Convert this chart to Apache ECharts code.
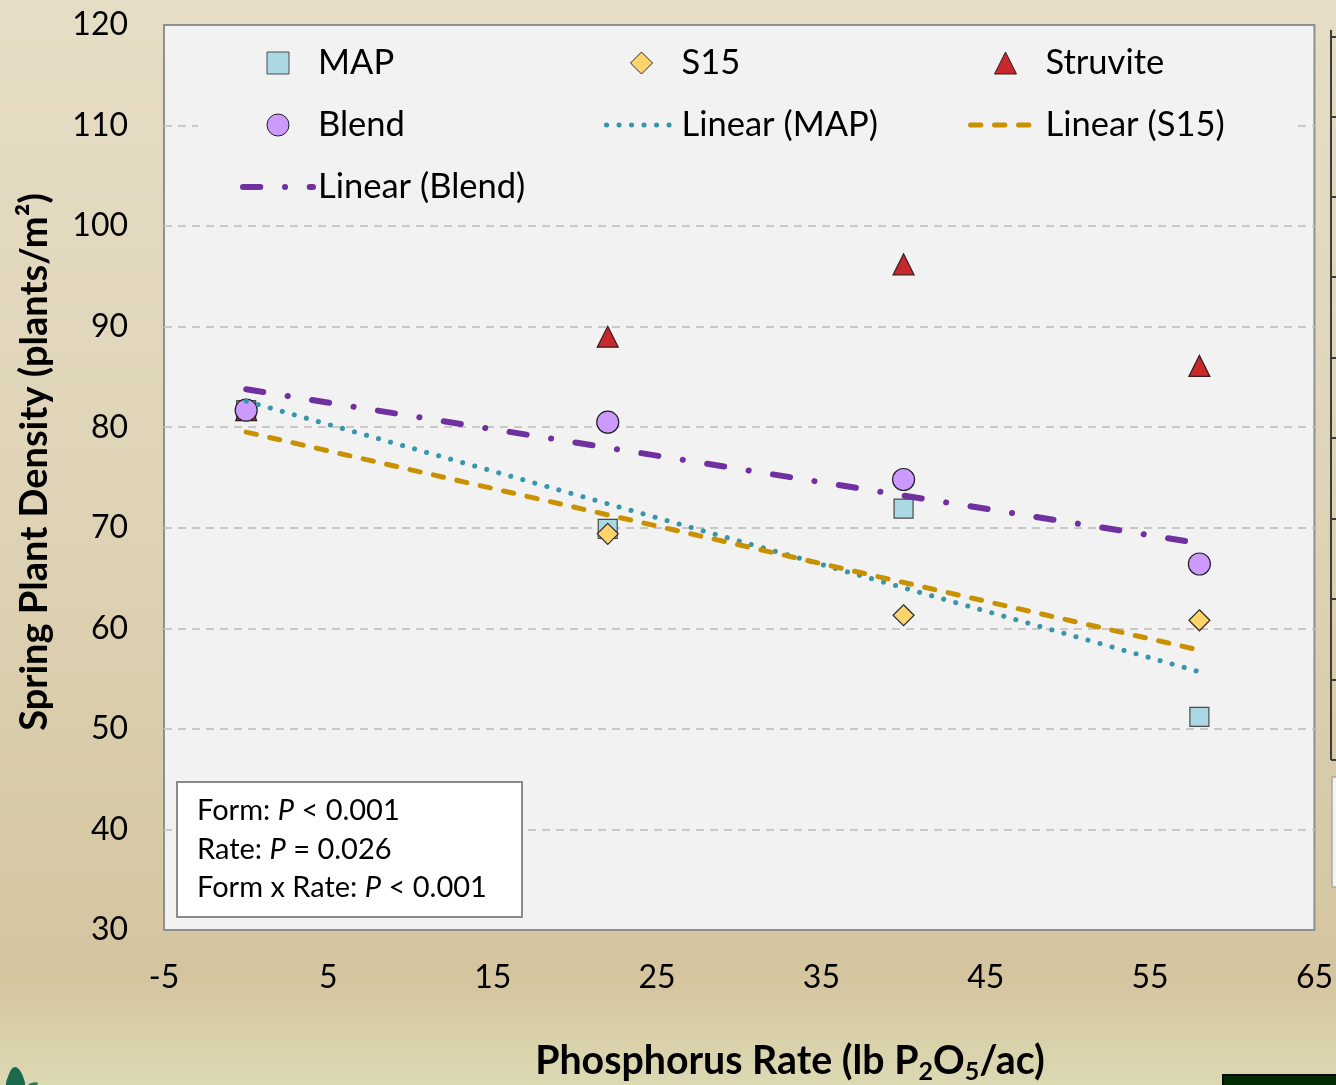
<!DOCTYPE html>
<html>
<head>
<meta charset="utf-8">
<script src="https://cdn.jsdelivr.net/npm/echarts@6/dist/echarts.min.js"></script>
<style>
  html, body { margin: 0; padding: 0; }
  #chart { width: 1336px; height: 1085px; }
</style>
</head>
<body>
<div id="chart"></div>
<script>
// Phosphorus rate (lb P2O5/ac) and spring plant density (plants/m2) per fertilizer form
const rates = [0, 22, 40, 58];
const mapDensity = [81.7, 69.9, 71.9, 51.2];
const s15Density = [81.7, 69.4, 61.3, 60.8];
const struviteDensity = [81.7, 89.0, 96.2, 86.1];
const blendDensity = [81.7, 80.5, 74.8, 66.4];

// Axis ticks
const xTickLabels = [-5, 5, 15, 25, 35, 45, 55, 65];
const yTickLabels = [30, 40, 50, 60, 70, 80, 90, 100, 110, 120];

// Statistics annotation: [label, italic symbol, value]
const statsLines = [
  ['Form: ', 'P', ' < 0.001'],
  ['Rate: ', 'P', ' = 0.026'],
  ['Form x Rate: ', 'P', ' < 0.001']
];

const FONT = 'Lato, "Open Sans", sans-serif';

// Least-squares linear trend drawn across the measured rate range
function linearTrend(xs, ys) {
  const n = xs.length;
  const mx = xs.reduce((a, b) => a + b, 0) / n;
  const my = ys.reduce((a, b) => a + b, 0) / n;
  let sxy = 0, sxx = 0;
  for (let i = 0; i < n; i++) {
    sxy += (xs[i] - mx) * (ys[i] - my);
    sxx += (xs[i] - mx) * (xs[i] - mx);
  }
  const slope = sxy / sxx;
  const intercept = my - slope * mx;
  const x0 = Math.min(...xs), x1 = Math.max(...xs);
  return [[x0, intercept + slope * x0], [x1, intercept + slope * x1]];
}

const pairs = (ys) => rates.map((x, i) => [x, ys[i]]);

const scatterBase = {
  type: 'scatter',
  silent: true,
  z: 2
};

const trendBase = {
  type: 'line',
  silent: true,
  symbol: 'none',
  z: 3
};

const MAP_COLOR = '#abd9e3';
const S15_COLOR = '#fed36c';
const STRUVITE_COLOR = '#c6282c';
const BLEND_COLOR = '#cc99ff';
const MAP_TREND = '#3896aa';
const S15_TREND = '#c99000';
const BLEND_TREND = '#7030a0';

// Legend marker shapes, kept square inside the wide legend slot
const ICON_SQUARE = 'path://M0,0L20,0L20,20L0,20Z';
const ICON_DIAMOND = 'path://M10,0L20,10L10,20L0,10Z';
const ICON_TRIANGLE = 'path://M10,0L20,20L0,20Z';

const legendCommon = {
  orient: 'vertical',
  selectedMode: false,
  padding: 0,
  top: 43,
  itemWidth: 70,
  itemHeight: 22,
  itemGap: 22,
  symbolKeepAspect: true,
  textStyle: { fontFamily: FONT, fontSize: 34.5, color: '#000', lineHeight: 40 },
  itemStyle: { borderWidth: 1 }
};

const markerLegendItem = (name, icon) => ({ name, icon });

const trendLegendItem = (name, width) => ({
  name,
  itemStyle: { opacity: 0 },
  lineStyle: { width }
});

const chart = echarts.init(document.getElementById('chart'), null, { renderer: 'canvas' });

const option = {
  animation: false,
  backgroundColor: {
    type: 'linear', x: 0, y: 0, x2: 0, y2: 1,
    colorStops: [
      { offset: 0, color: '#e6ddc6' },
      { offset: 0.45, color: '#dfd4b7' },
      { offset: 0.9, color: '#d4c59f' },
      { offset: 1, color: '#dcd9b2' }
    ]
  },
  grid: {
    left: 164, top: 25, right: 21, bottom: 155,
    show: true,
    backgroundColor: '#f2f2f2',
    borderColor: '#8f8f8f',
    borderWidth: 2
  },
  xAxis: {
    type: 'value',
    min: -5, max: 65, interval: 5,
    axisLine: { show: false },
    axisTick: { show: false },
    splitLine: { show: false },
    axisLabel: {
      margin: 32,
      fontFamily: FONT, fontSize: 32, color: '#000',
      formatter: (v) => (xTickLabels.includes(v) ? String(v) : '')
    }
  },
  yAxis: {
    type: 'value',
    min: 30, max: 120, interval: 10,
    axisLine: { show: false },
    axisTick: { show: false },
    splitLine: {
      show: true, showMinLine: false, showMaxLine: false,
      lineStyle: { color: '#c9c9c9', width: 2, type: [8, 6] }
    },
    axisLabel: {
      margin: 36,
      fontFamily: FONT, fontSize: 32, color: '#000',
      formatter: (v) => (yTickLabels.includes(v) ? String(v) : '')
    }
  },
  legend: [
    Object.assign({}, legendCommon, {
      left: 240,
      data: [
        markerLegendItem('MAP', ICON_SQUARE),
        markerLegendItem('Blend', 'circle'),
        trendLegendItem('Linear (Blend)', 6)
      ]
    }),
    Object.assign({}, legendCommon, {
      left: 604,
      data: [
        markerLegendItem('S15', ICON_DIAMOND),
        trendLegendItem('Linear (MAP)', 5)
      ]
    }),
    Object.assign({}, legendCommon, {
      left: 968,
      data: [
        markerLegendItem('Struvite', ICON_TRIANGLE),
        trendLegendItem('Linear (S15)', 5)
      ]
    })
  ],
  series: [
    Object.assign({}, scatterBase, {
      name: 'MAP', symbol: 'rect', symbolSize: 19,
      itemStyle: { color: MAP_COLOR, borderColor: '#4a4a4a', borderWidth: 1.2, opacity: 1 },
      data: pairs(mapDensity)
    }),
    Object.assign({}, scatterBase, {
      name: 'S15', symbol: 'diamond', symbolSize: 21,
      itemStyle: { color: S15_COLOR, borderColor: '#2b2b2b', borderWidth: 1.2, opacity: 1 },
      data: pairs(s15Density)
    }),
    Object.assign({}, scatterBase, {
      name: 'Struvite', symbol: 'triangle', symbolSize: 21,
      itemStyle: { color: STRUVITE_COLOR, borderColor: '#3a1a1a', borderWidth: 1.2, opacity: 1 },
      data: pairs(struviteDensity)
    }),
    Object.assign({}, scatterBase, {
      name: 'Blend', symbol: 'circle', symbolSize: 22,
      itemStyle: { color: BLEND_COLOR, borderColor: '#222', borderWidth: 1.2, opacity: 1 },
      data: pairs(blendDensity)
    }),
    Object.assign({}, trendBase, {
      name: 'Linear (MAP)',
      color: MAP_TREND,
      lineStyle: { color: MAP_TREND, width: 5, type: [0.1, 12.4], cap: 'round' },
      data: linearTrend(rates, mapDensity)
    }),
    Object.assign({}, trendBase, {
      name: 'Linear (S15)',
      color: S15_TREND,
      lineStyle: { color: S15_TREND, width: 5, type: [10.4, 13.6], cap: 'round' },
      data: linearTrend(rates, s15Density)
    }),
    Object.assign({}, trendBase, {
      name: 'Linear (Blend)',
      color: BLEND_TREND,
      lineStyle: { color: BLEND_TREND, width: 6, type: [17.3, 24.7, 0.1, 24.6], cap: 'round' },
      data: linearTrend(rates, blendDensity)
    })
  ],
  graphic: [
    // legend backdrop over the gridlines
    {
      type: 'rect', z: 1, silent: true,
      shape: { x: 198, y: 33, width: 1094, height: 182 },
      style: { fill: '#f2f2f2' }
    },
    // statistics box
    {
      type: 'rect', z: 5, silent: true,
      shape: { x: 177, y: 782, width: 345, height: 135 },
      style: { fill: '#ffffff', stroke: '#8a8a8a', lineWidth: 2 }
    },
    ...statsLines.map((parts, i) => ({
      type: 'text', z: 6, silent: true,
      x: 197, y: 811 + i * 38.5,
      style: {
        text: parts[0] + '{i|' + parts[1] + '}' + parts[2],
        font: '29px ' + FONT,
        fill: '#000',
        verticalAlign: 'middle',
        rich: { i: { fontStyle: 'italic', fontSize: 29, fontFamily: FONT } }
      }
    })),
    // axis titles
    {
      type: 'text', silent: true,
      x: 35, y: 462, rotation: Math.PI / 2,
      style: {
        text: 'Spring Plant Density (plants/m\u00b2)',
        font: 'bold 38px ' + FONT,
        fill: '#000',
        align: 'center', verticalAlign: 'middle'
      }
    },
    {
      type: 'text', silent: true,
      x: 790, y: 1038,
      style: {
        text: '{t|Phosphorus Rate (lb P}{s|2}{t|O}{s|5}{t|/ac)}',
        fill: '#000',
        align: 'center', verticalAlign: 'top',
        rich: {
          t: { fontFamily: FONT, fontWeight: 'bold', fontSize: 39.3, lineHeight: 46 },
          s: { fontFamily: FONT, fontWeight: 'bold', fontSize: 25, lineHeight: 22, verticalAlign: 'bottom' }
        }
      }
    },
    // neighbouring slide elements at the right edge
    {
      type: 'polyline', silent: true,
      shape: { points: [[1331, 30], [1331, 760]] },
      style: { stroke: '#3c3c3c', lineWidth: 2 }
    },
    ...[37, 117, 197, 277, 358, 438, 519, 599, 680, 760].map((y) => ({
      type: 'line', silent: true,
      shape: { x1: 1331, y1: y, x2: 1336, y2: y },
      style: { stroke: '#3c3c3c', lineWidth: 2 }
    })),
    {
      type: 'rect', silent: true,
      shape: { x: 1332, y: 777, width: 8, height: 110 },
      style: { fill: '#f4f4f4', stroke: '#a8a8a8', lineWidth: 1.5 }
    },
    // footer decorations
    {
      type: 'rect', silent: true,
      shape: { x: 1223, y: 1075, width: 120, height: 20 },
      style: { fill: '#012b02', stroke: '#0b0b0b', lineWidth: 2 }
    },
    {
      type: 'polygon', silent: true,
      shape: { points: [[15, 1067], [9, 1074], [7, 1088], [24, 1088], [22, 1074]], smooth: 0.4 },
      style: { fill: '#1b6a4c' }
    },
    {
      type: 'polygon', silent: true,
      shape: { points: [[26, 1088], [31, 1083], [38, 1083], [33, 1088]], smooth: 0.4 },
      style: { fill: '#2d7a5a' }
    }
  ]
};

chart.setOption(option);
</script>
</body>
</html>
